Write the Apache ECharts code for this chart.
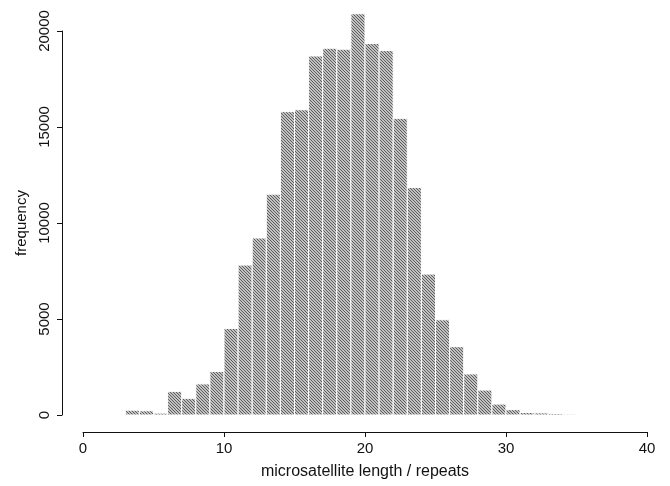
<!DOCTYPE html>
<html>
<head>
<meta charset="utf-8">
<script src="https://cdn.jsdelivr.net/npm/echarts@6/dist/echarts.min.js"></script>
<style>
  html, body { margin: 0; padding: 0; background: #fff; }
  #chart { width: 670px; height: 486px; }
</style>
</head>
<body>
<div id="chart"></div>
<script>
// Histogram of microsatellite lengths, one bin per repeat count
var binStarts = [3, 4, 5, 6, 7, 8, 9, 10, 11, 12, 13, 14, 15, 16, 17, 18,
                 19, 20, 21, 22, 23, 24, 25, 26, 27, 28, 29, 30, 31, 32, 33, 34];
var binWidth = 1;
var frequencies = [250, 220, 100, 1230, 870, 1620, 2270, 4510, 7810, 9220,
                   11500, 15800, 15900, 18700, 19100, 19050, 20900, 19350,
                   18980, 15450, 11850, 7340, 4960, 3560, 2140, 1300, 570,
                   280, 130, 110, 80, 40];
var xTicks = [0, 10, 20, 30, 40];
var yTicks = [0, 5000, 10000, 15000, 20000];

// Hatched grey fill for the bars
function makeHatch() {
  var c = document.createElement('canvas');
  c.width = 6; c.height = 6;
  var ctx = c.getContext('2d');
  ctx.fillStyle = '#c2c2c2';
  ctx.fillRect(0, 0, 6, 6);
  ctx.fillStyle = '#5c5c5c';
  for (var y = 0; y < 6; y++) {
    for (var x = 0; x < 6; x++) {
      if (((x - y) % 3 + 3) % 3 === 0) ctx.fillRect(x, y, 1, 1);
    }
  }
  return c;
}
var hatch = makeHatch();

var data = binStarts.map(function (s, i) {
  return [s, s + binWidth, frequencies[i]];
});

var chart = echarts.init(document.getElementById('chart'), null, { renderer: 'canvas' });
var font = 'Liberation Sans, Arial, Helvetica, sans-serif';

chart.setOption({
  animation: false,
  backgroundColor: '#fff',
  grid: { left: 83, right: 23, top: 31, bottom: 71 },
  xAxis: {
    type: 'value',
    min: xTicks[0],
    max: xTicks[xTicks.length - 1],
    interval: xTicks[1] - xTicks[0],
    offset: 17,
    name: 'microsatellite length / repeats',
    nameLocation: 'middle',
    nameGap: 32,
    nameTextStyle: { color: '#111', fontSize: 16, fontFamily: font },
    axisLine: { show: true, onZero: false, lineStyle: { color: '#111', width: 1 } },
    axisTick: { show: true, inside: false, length: 5, lineStyle: { color: '#111' } },
    axisLabel: {
      color: '#111', fontSize: 15, fontFamily: font, margin: 9,
      formatter: function (v) { return String(v); }
    },
    splitLine: { show: false }
  },
  yAxis: {
    type: 'value',
    min: yTicks[0],
    max: yTicks[yTicks.length - 1],
    interval: yTicks[1] - yTicks[0],
    offset: 21,
    name: 'frequency',
    nameLocation: 'middle',
    nameGap: 30,
    nameTextStyle: { color: '#111', fontSize: 15, fontFamily: font },
    axisLine: { show: true, onZero: false, lineStyle: { color: '#111', width: 1 } },
    axisTick: { show: true, inside: false, length: 5, lineStyle: { color: '#111' } },
    axisLabel: {
      color: '#111', fontSize: 15, fontFamily: font, rotate: 90, margin: 10,
      formatter: function (v) { return String(v); }
    },
    splitLine: { show: false }
  },
  series: [{
    type: 'custom',
    data: data,
    encode: { x: [0, 1], y: 2 },
    renderItem: function (params, api) {
      var p0 = api.coord([api.value(0), api.value(2)]);
      var p1 = api.coord([api.value(1), 0]);
      return {
        type: 'rect',
        shape: { x: p0[0], y: p0[1], width: p1[0] - p0[0], height: p1[1] - p0[1] },
        style: {
          fill: { image: hatch, repeat: 'repeat' },
          stroke: '#fff',
          lineWidth: 1
        }
      };
    }
  }]
});
</script>
</body>
</html>
